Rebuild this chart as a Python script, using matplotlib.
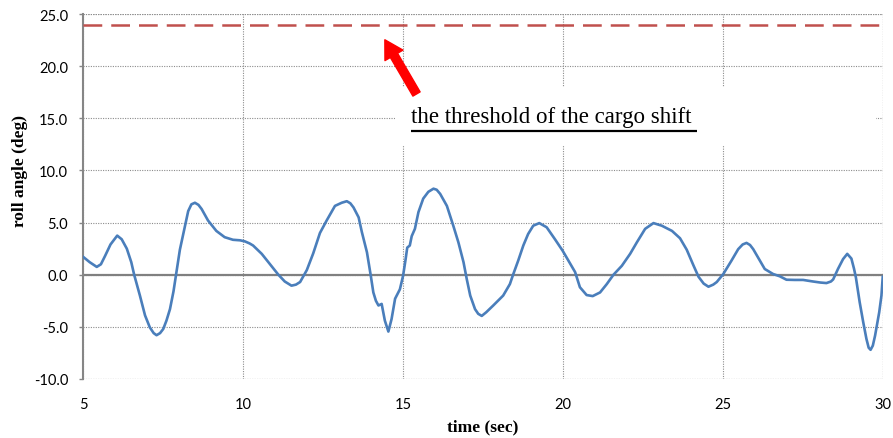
import matplotlib
matplotlib.use("Agg")
import matplotlib.pyplot as plt
from matplotlib.patches import Rectangle

# roll angle time history
time_sec = [5.0, 5.2, 5.42, 5.55, 5.68, 5.85, 6.06, 6.2, 6.36, 6.5, 6.59, 6.77, 6.93, 7.08, 7.2,
            7.29, 7.4, 7.5, 7.6, 7.71, 7.82, 7.9, 8.02, 8.18, 8.28, 8.38, 8.49, 8.6, 8.7, 8.9,
            9.16, 9.42, 9.68, 9.9, 10.05, 10.2, 10.31, 10.58, 10.84, 11.1, 11.3, 11.51, 11.65, 11.78, 11.99,
            12.19, 12.4, 12.61, 12.87, 13.08, 13.24, 13.35, 13.45, 13.61, 13.71, 13.87, 13.99, 14.07, 14.15, 14.23,
            14.33, 14.43, 14.54, 14.64, 14.75, 14.9, 15.0, 15.08, 15.13, 15.21, 15.27, 15.37, 15.48, 15.63, 15.79,
            15.95, 16.05, 16.16, 16.37, 16.57, 16.73, 16.89, 16.99, 17.1, 17.25, 17.35, 17.46, 17.6, 17.82, 18.13,
            18.34, 18.44, 18.6, 18.76, 18.91, 19.07, 19.26, 19.49, 19.75, 19.99, 20.17, 20.38, 20.53, 20.74, 20.93,
            21.16, 21.37, 21.58, 21.84, 22.1, 22.31, 22.57, 22.83, 23.09, 23.41, 23.66, 23.87, 24.08, 24.24, 24.4,
            24.55, 24.7, 24.81, 25.01, 25.27, 25.48, 25.62, 25.74, 25.85, 25.95, 26.16, 26.31, 26.57, 26.78, 26.99,
            27.25, 27.51, 27.82, 28.05, 28.24, 28.38, 28.45, 28.6, 28.76, 28.89, 29.02, 29.1, 29.16, 29.28, 29.39,
            29.49, 29.56, 29.62, 29.69, 29.76, 29.89, 29.96, 30.0]
roll_deg = [1.7, 1.2, 0.75, 1.0, 1.8, 2.9, 3.75, 3.4, 2.5, 1.2, 0.0, -2.0, -3.9, -5.05, -5.6,
            -5.8, -5.6, -5.2, -4.4, -3.3, -1.6, 0.0, 2.4, 4.7, 6.1, 6.75, 6.9, 6.7, 6.3, 5.2,
            4.2, 3.6, 3.35, 3.3, 3.2, 3.0, 2.8, 2.0, 1.0, 0.0, -0.65, -1.05, -0.95, -0.7, 0.45,
            2.05, 4.0, 5.2, 6.6, 6.9, 7.05, 6.85, 6.45, 5.5, 4.1, 2.15, -0.1, -1.7, -2.5, -2.95,
            -2.8, -4.4, -5.45, -4.25, -2.3, -1.4, -0.1, 1.5, 2.6, 2.8, 3.7, 4.4, 6.0, 7.3, 7.95,
            8.25, 8.15, 7.75, 6.6, 4.7, 3.1, 1.2, -0.4, -2.0, -3.3, -3.75, -3.95, -3.6, -2.95, -2.0,
            -0.9, 0.0, 1.35, 2.8, 3.9, 4.7, 4.95, 4.55, 3.4, 2.3, 1.35, 0.25, -1.2, -1.95, -2.05,
            -1.7, -0.9, 0.0, 0.85, 2.0, 3.1, 4.4, 4.95, 4.7, 4.2, 3.5, 2.4, 0.9, -0.2, -0.85,
            -1.15, -0.95, -0.7, 0.05, 1.35, 2.45, 2.9, 3.05, 2.85, 2.45, 1.35, 0.55, 0.07, -0.15, -0.48,
            -0.5, -0.5, -0.65, -0.75, -0.8, -0.65, -0.45, 0.55, 1.5, 2.0, 1.55, 0.6, -0.25, -2.65, -4.55,
            -6.15, -7.0, -7.2, -6.8, -5.85, -3.6, -2.0, -0.2]

threshold = 23.95
x_ticks = [5, 10, 15, 20, 25, 30]
y_ticks = [-10, -5, 0, 5, 10, 15, 20, 25]

fig = plt.figure(figsize=(8.93, 4.39), dpi=100)
ax = fig.add_axes([0.0933, 0.1344, 0.8952, 0.8314])

ax.set_xlim(5, 30)
ax.set_ylim(-10, 25)
ax.set_xticks(x_ticks)
ax.set_yticks(y_ticks)
ax.set_xticklabels([str(v) for v in x_ticks])
ax.set_yticklabels([f"{v:.1f}" for v in y_ticks])

for side in ["top", "right", "bottom"]:
    ax.spines[side].set_visible(False)
ax.spines["left"].set_color("#868686")
ax.spines["left"].set_linewidth(1.5)

ax.tick_params(axis="y", length=3, width=1, color="#868686", pad=8,
               labelsize=10.5, labelcolor="black")
ax.tick_params(axis="x", length=0, pad=13, labelsize=10.5, labelcolor="black")
for lab in ax.get_xticklabels() + ax.get_yticklabels():
    lab.set_fontfamily("Lato")

# dotted grid, including the frame lines on top/right/bottom
ax.set_axisbelow(True)
ax.grid(True, linestyle=(0, (1, 1.2)), color="#8c8c8c", linewidth=0.8)
ax.axhline(-10, linestyle=(0, (1, 1.2)), color="#8c8c8c", linewidth=0.8, zorder=0.6)
ax.axhline(25, linestyle=(0, (1, 1.2)), color="#8c8c8c", linewidth=0.8, zorder=0.6)
ax.axvline(30, linestyle=(0, (1, 1.2)), color="#8c8c8c", linewidth=0.8, zorder=0.6)

# zero line
ax.axhline(0, color="#808080", linewidth=1.6, zorder=1.8)

# white box behind the annotation text
ax.add_patch(Rectangle((14.74, 12.34), 15.06, 5.66, facecolor="white",
                       edgecolor="none", zorder=1.5))

ax.plot(time_sec, roll_deg, color="#4a7ebb", linewidth=1.9, zorder=3)

thr = ax.axhline(threshold, color="#c0504d", linewidth=1.8, zorder=3)
thr.set_dashes([7.5, 3.6])

ax.annotate("", xy=(14.43, 22.53), xytext=(15.42, 17.33),
            arrowprops=dict(arrowstyle="simple,head_width=1.5,head_length=1.3,tail_width=0.6",
                            color="#ff0000", shrinkA=0, shrinkB=0, mutation_scale=10),
            zorder=4)

ax.text(15.26, 14.64, "the threshold of the cargo shift", fontsize=16.5,
        family="Liberation Serif", va="baseline", ha="left", zorder=4)
ax.plot([15.26, 24.2], [13.75, 13.75], color="black", linewidth=1.6,
        solid_capstyle="butt", zorder=4)

fig.text(0.022, 0.61, "roll angle (deg)", rotation=90, ha="center", va="center",
         fontsize=12.5, fontweight="bold", family="Liberation Serif")
fig.text(0.54, 0.027, "time (sec)", ha="center", va="center",
         fontsize=12.5, fontweight="bold", family="Liberation Serif")

fig.savefig("out.png", dpi=100)
